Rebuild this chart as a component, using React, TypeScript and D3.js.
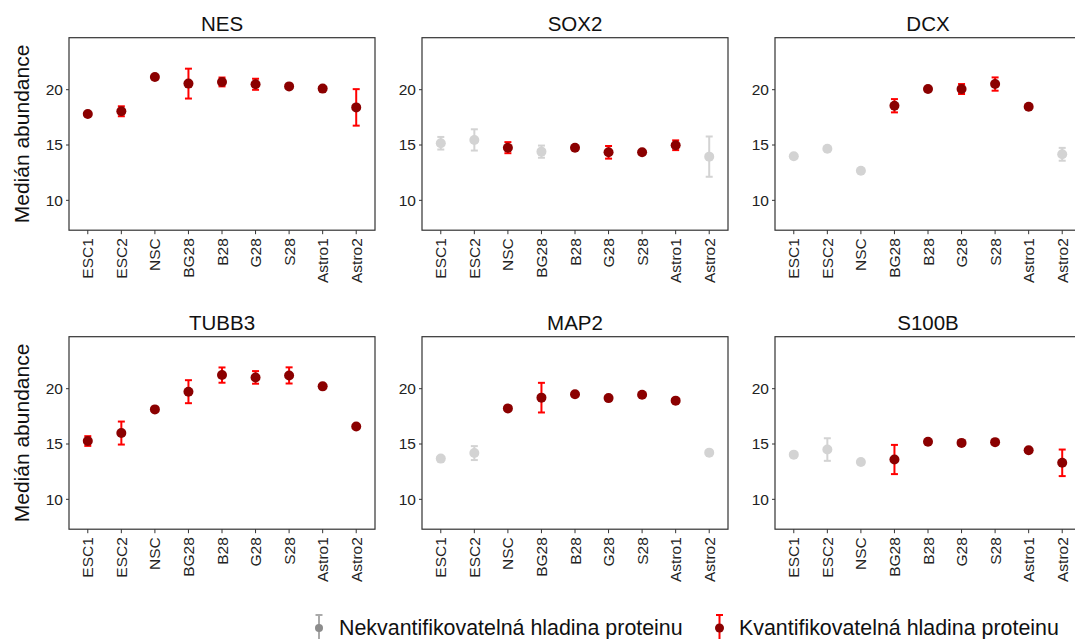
import React from "react";
import * as d3 from "d3";

const categories = ["ESC1", "ESC2", "NSC", "BG28", "B28", "G28", "S28", "Astro1", "Astro2"];
const yTicks = [10, 15, 20];

// median values, half-width of error bars, quantifiable flag (1 = red, 0 = grey)
const nesValues = [17.8, 18.05, 21.15, 20.55, 20.7, 20.49, 20.3, 20.1, 18.4];
const nesErr = [0.1, 0.45, 0.1, 1.35, 0.4, 0.5, 0.12, 0.1, 1.65];
const nesQuant = [1, 1, 1, 1, 1, 1, 1, 1, 1];

const sox2Values = [15.16, 15.46, 14.76, 14.4, 14.76, 14.34, 14.34, 14.98, 13.95];
const sox2Err = [0.57, 0.96, 0.5, 0.55, 0.15, 0.57, 0.12, 0.44, 1.82];
const sox2Quant = [0, 0, 1, 0, 1, 1, 1, 1, 0];

const dcxValues = [13.98, 14.67, 12.68, 18.55, 20.06, 20.06, 20.51, 18.46, 14.16];
const dcxErr = [0.1, 0.1, 0.1, 0.6, 0.12, 0.45, 0.6, 0.1, 0.58];
const dcxQuant = [0, 0, 0, 1, 1, 1, 1, 1, 0];

const tubb3Values = [15.27, 15.99, 18.13, 19.73, 21.23, 21.02, 21.2, 20.21, 16.59];
const tubb3Err = [0.44, 1.04, 0.1, 1.04, 0.69, 0.57, 0.73, 0.1, 0.1];
const tubb3Quant = [1, 1, 1, 1, 1, 1, 1, 1, 1];

const map2Values = [13.68, 14.18, 18.22, 19.19, 19.49, 19.15, 19.46, 18.92, 14.22];
const map2Err = [0.1, 0.63, 0.1, 1.34, 0.12, 0.1, 0.12, 0.1, 0.1];
const map2Quant = [0, 0, 1, 1, 1, 1, 1, 1, 0];

const s100bValues = [14.04, 14.5, 13.37, 13.6, 15.2, 15.1, 15.17, 14.43, 13.3];
const s100bErr = [0.1, 1.02, 0.1, 1.32, 0.12, 0.1, 0.12, 0.1, 1.2];
const s100bQuant = [0, 0, 0, 1, 1, 1, 1, 1, 1];

const panelNames = ["NES", "SOX2", "DCX", "TUBB3", "MAP2", "S100B"];
const panelValues = [nesValues, sox2Values, dcxValues, tubb3Values, map2Values, s100bValues];
const panelErr = [nesErr, sox2Err, dcxErr, tubb3Err, map2Err, s100bErr];
const panelQuant = [nesQuant, sox2Quant, dcxQuant, tubb3Quant, map2Quant, s100bQuant];

const legendLabels = ["Nekvantifikovatelná hladina proteinu", "Kvantifikovatelná hladina proteinu"];

const W = 1075;
const H = 639;
const colLefts = [69, 422, 775];
const rowTops = [37.7, 336.7];
const panelW = 306;
const panelH = 192.5;
const FONT = "'Liberation Sans', Arial, sans-serif";

const RED_PT = "#8B0000";
const RED_BAR = "#FF0000";
const GREY_PT = "#D3D3D3";
const GREY_BAR = "#D3D3D3";

function Panel({ idx }: { idx: number }) {
  const col = idx % 3;
  const row = Math.floor(idx / 3);
  const left = colLefts[col];
  const top = rowTops[row];
  const x = d3.scalePoint<string>().domain(categories).range([left, left + panelW]).padding(0.56);
  const y = d3.scaleLinear().domain([7.3, 24.7]).range([top + panelH, top]);
  const vals = panelValues[idx];
  const errs = panelErr[idx];
  const q = panelQuant[idx];
  const cx = left + panelW / 2;
  return (
    <g>
      <text x={cx} y={top - 7} textAnchor="middle" fontSize={20.5} fontFamily={FONT} fill="#111">
        {panelNames[idx]}
      </text>
      {yTicks.map((t) => (
        <g key={t}>
          <line x1={left - 3} x2={left} y1={y(t)} y2={y(t)} stroke="#333" strokeWidth={1} />
          <text x={left - 6} y={y(t)} dy="0.35em" textAnchor="end" fontSize={15.5} fontFamily={FONT} fill="#222">
            {t}
          </text>
        </g>
      ))}
      {categories.map((c) => (
        <g key={c}>
          <line x1={x(c)} x2={x(c)} y1={top + panelH} y2={top + panelH + 4} stroke="#333" strokeWidth={1} />
          <text
            transform={`translate(${x(c)! + 5.5},${top + panelH + 8}) rotate(-90)`}
            textAnchor="end"
            fontSize={15.5}
            fontFamily={FONT}
            fill="#222"
          >
            {c}
          </text>
        </g>
      ))}
      {categories.map((c, i) => {
        const px = x(c)!;
        const col2 = q[i] ? RED_BAR : GREY_BAR;
        const y1 = y(vals[i] + errs[i]);
        const y2 = y(vals[i] - errs[i]);
        return (
          <g key={c}>
            <line x1={px} x2={px} y1={y1} y2={y2} stroke={col2} strokeWidth={2} />
            <line x1={px - 3.5} x2={px + 3.5} y1={y1} y2={y1} stroke={col2} strokeWidth={2} />
            <line x1={px - 3.5} x2={px + 3.5} y1={y2} y2={y2} stroke={col2} strokeWidth={2} />
            <circle cx={px} cy={y(vals[i])} r={5} fill={q[i] ? RED_PT : GREY_PT} />
          </g>
        );
      })}
      <rect x={left} y={top} width={panelW} height={panelH} fill="none" stroke="#333" strokeWidth={1.2} />
    </g>
  );
}

export default function App() {
  return (
    <div style={{ position: "absolute", left: 0, top: 0 }}>
      <svg width={W} height={H} style={{ display: "block", background: "#fff" }}>
        <rect width={W} height={H} fill="#fff" />
        {panelNames.map((_, i) => (
          <Panel key={i} idx={i} />
        ))}
        {rowTops.map((t, i) => (
          <text
            key={i}
            transform={`translate(29,${t + panelH / 2}) rotate(-90)`}
            textAnchor="middle"
            fontSize={21}
            fontFamily={FONT}
            fill="#111"
          >
            Medián abundance
          </text>
        ))}
        {/* legend */}
        <g>
          <line x1={319} x2={319} y1={615} y2={639} stroke="#AAAAAA" strokeWidth={2} />
          <line x1={315.5} x2={322.5} y1={615} y2={615} stroke="#AAAAAA" strokeWidth={2} />
          <circle cx={319} cy={628} r={4} fill="#8C8C8C" />
          <text x={339} y={628} dy="0.35em" fontSize={21.4} fontFamily={FONT} fill="#111">
            {legendLabels[0]}
          </text>
          <line x1={719.5} x2={719.5} y1={615} y2={639} stroke={RED_BAR} strokeWidth={2} />
          <line x1={716} x2={723} y1={615} y2={615} stroke={RED_BAR} strokeWidth={2} />
          <circle cx={719.5} cy={628} r={4.5} fill={RED_PT} />
          <text x={739} y={628} dy="0.35em" fontSize={21.4} fontFamily={FONT} fill="#111">
            {legendLabels[1]}
          </text>
        </g>
      </svg>
    </div>
  );
}
